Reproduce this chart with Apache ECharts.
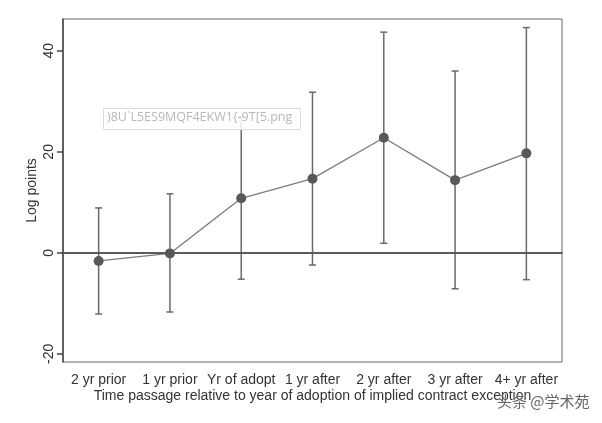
<!DOCTYPE html>
<html>
<head>
<meta charset="utf-8">
<script src="https://cdn.jsdelivr.net/npm/echarts@6/dist/echarts.min.js"></script>
<style>html,body{margin:0;padding:0;background:#fff}#c{width:602px;height:423px}</style>
</head>
<body>
<div id="c"></div>
<script>
var categories = ['2 yr prior', '1 yr prior', 'Yr of adopt', '1 yr after', '2 yr after', '3 yr after', '4+ yr after'];
var estimates = [-1.6, -0.1, 10.8, 14.7, 22.8, 14.4, 19.7];
var lower = [-12.1, -11.7, -5.2, -2.4, 1.9, -7.1, -5.3];
var upper = [8.9, 11.7, 26.9, 31.8, 43.7, 36.0, 44.6];
var yTicks = [-20, 0, 20, 40];

var chart = echarts.init(document.getElementById('c'), null, {renderer: 'canvas'});
var font = '"Liberation Sans", Arial, sans-serif';
var errData = categories.map(function (c, i) { return [i, lower[i], upper[i]]; });

chart.setOption({
  animation: false,
  backgroundColor: '#fff',
  grid: {left: 63, right: 40, top: 19, bottom: 61, show: true, borderColor: '#666', borderWidth: 1},
  xAxis: {
    type: 'category',
    data: categories,
    boundaryGap: true,
    name: 'Time passage relative to year of adoption of implied contract exception',
    nameLocation: 'middle',
    nameMoveOverlap: false,
    nameGap: 27,
    nameTextStyle: {fontFamily: font, fontSize: 14, color: '#333'},
    axisLine: {lineStyle: {color: '#444', width: 1.5}},
    axisTick: {alignWithLabel: true, length: 6, lineStyle: {color: '#444', width: 1.5}},
    axisLabel: {fontFamily: font, fontSize: 14, color: '#333', margin: 11, interval: 0}
  },
  yAxis: {
    type: 'value',
    min: -21.6,
    max: 46.3,
    name: 'Log points',
    nameLocation: 'middle',
    nameMoveOverlap: false,
    nameGap: 24,
    nameTextStyle: {fontFamily: font, fontSize: 14, color: '#333'},
    axisLine: {show: true, lineStyle: {color: '#444', width: 1.5}},
    axisTick: {show: true, length: 6, customValues: yTicks, lineStyle: {color: '#444', width: 1.5}},
    axisLabel: {fontFamily: font, fontSize: 14, color: '#333', rotate: 90, margin: 7, customValues: yTicks},
    splitLine: {show: false}
  },
  series: [
    {
      type: 'custom',
      data: errData,
      silent: true,
      z: 2,
      renderItem: function (params, api) {
        var x = api.value(0);
        var lo = api.coord([x, api.value(1)]);
        var hi = api.coord([x, api.value(2)]);
        var hw = 3.5;
        var st = {stroke: '#6a6a6a', lineWidth: 1.5};
        return {
          type: 'group',
          children: [
            {type: 'line', shape: {x1: lo[0], y1: lo[1], x2: hi[0], y2: hi[1]}, style: st},
            {type: 'line', shape: {x1: lo[0] - hw, y1: lo[1], x2: lo[0] + hw, y2: lo[1]}, style: st},
            {type: 'line', shape: {x1: hi[0] - hw, y1: hi[1], x2: hi[0] + hw, y2: hi[1]}, style: st}
          ]
        };
      }
    },
    {
      type: 'line',
      data: estimates,
      z: 3,
      symbol: 'circle',
      symbolSize: 10,
      itemStyle: {color: '#595959'},
      lineStyle: {color: '#7a7a7a', width: 1.3},
      markLine: {
        silent: true,
        symbol: 'none',
        label: {show: false},
        lineStyle: {color: '#555', width: 1.5, type: 'solid'},
        data: [{yAxis: 0}]
      }
    }
  ],
  graphic: [
    {
      type: 'rect', left: 103, top: 108, z: 10,
      shape: {width: 197, height: 21},
      style: {fill: 'rgba(255,255,255,0.85)', stroke: '#dcdcdc', lineWidth: 1}
    },
    {
      type: 'text', left: 107, top: 111, z: 11,
      style: {text: ')8U`L5ES9MQF4EKW1{-9T[5.png', fontFamily: '"Open Sans", sans-serif', fontSize: 12.5, fill: '#b8b8b8'}
    },
    {
      type: 'text', left: 497, top: 394, z: 11,
      style: {text: '头条 @学术苑', fontFamily: '"Noto Sans CJK SC", sans-serif', fontSize: 15, fill: '#666', textShadowColor: '#fff', textShadowBlur: 2}
    }
  ]
});
</script>
</body>
</html>
